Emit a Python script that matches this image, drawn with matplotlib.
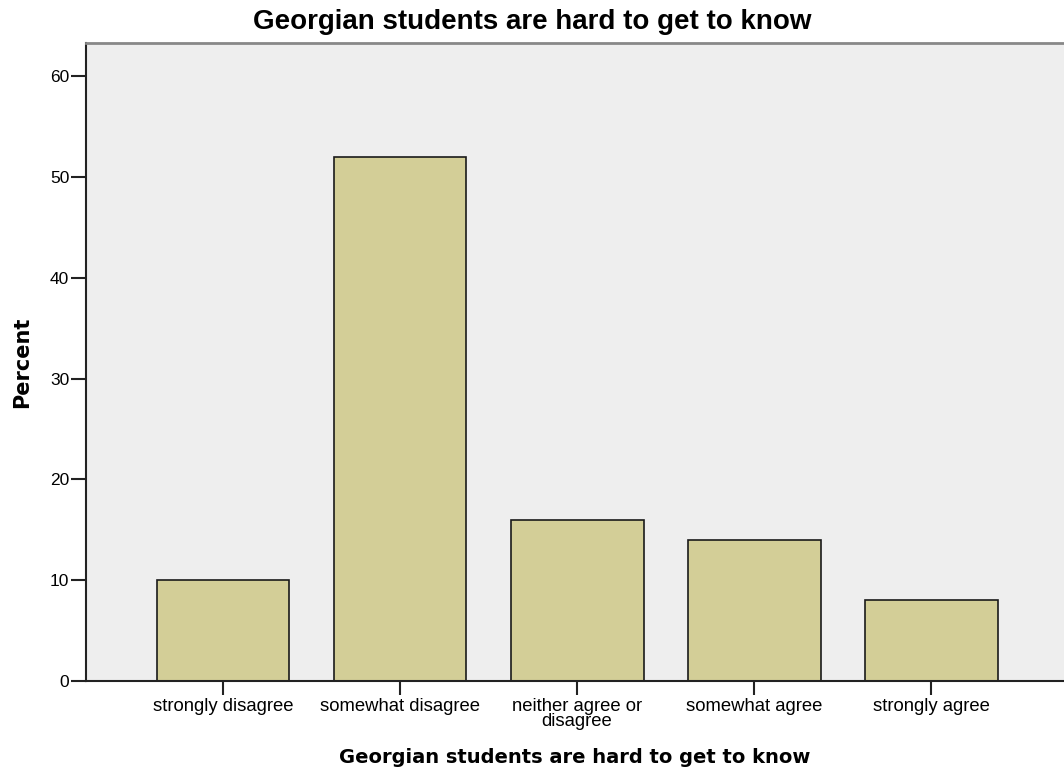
import matplotlib.pyplot as plt
import numpy as np

# Survey answers and percentages
categories = ["strongly disagree", "somewhat disagree", "neither agree or\ndisagree",
              "somewhat agree", "strongly agree"]
percents = [10, 52, 16, 14, 8]
yticks = [0, 10, 20, 30, 40, 50, 60]
title = "Georgian students are hard to get to know"

plt.rcParams['font.family'] = ['Liberation Sans', 'DejaVu Sans']

fig = plt.figure(figsize=(10.64, 7.75), dpi=100)
W, H = 1064, 775
# axes box in pixels: left 86, right 1064 (open on the right), top 43, bottom 681
ax = fig.add_axes([86 / W, 1 - 681 / H, (1064 - 86) / W, (681 - 43) / H])
ax.set_facecolor("#EEEEEE")

x = np.arange(len(categories))
ax.bar(x, percents, width=0.75, color="#D3CE97", edgecolor="#1a1a1a", linewidth=1.2, zorder=2)

ax.set_xlim(-0.774, 4.75)
ax.set_ylim(0, 63.3)
ax.set_yticks(yticks)
ax.set_xticks(x)
ax.set_xticklabels(categories, fontsize=13.3, linespacing=0.9)
ax.tick_params(axis="y", labelsize=12.5, length=11, width=1.5, color="#222222", pad=1)
ax.tick_params(axis="x", length=10, width=1.5, color="#222222", pad=2)

ax.spines["right"].set_visible(False)
ax.spines["top"].set_color("#888888")
ax.spines["top"].set_linewidth(2)
ax.spines["left"].set_linewidth(1.5)
ax.spines["bottom"].set_linewidth(1.5)
ax.spines["left"].set_color("#222222")
ax.spines["bottom"].set_color("#222222")

ax.set_ylabel("Percent", fontsize=15, fontweight="bold", family="DejaVu Sans", labelpad=13)
ax.set_xlabel(title, fontsize=14, fontweight="bold", family="DejaVu Sans", labelpad=13)
fig.text(0.5, 1 - 22 / H, title, ha="center", va="center", fontsize=20, fontweight="bold")

fig.savefig("out.png", dpi=100)
